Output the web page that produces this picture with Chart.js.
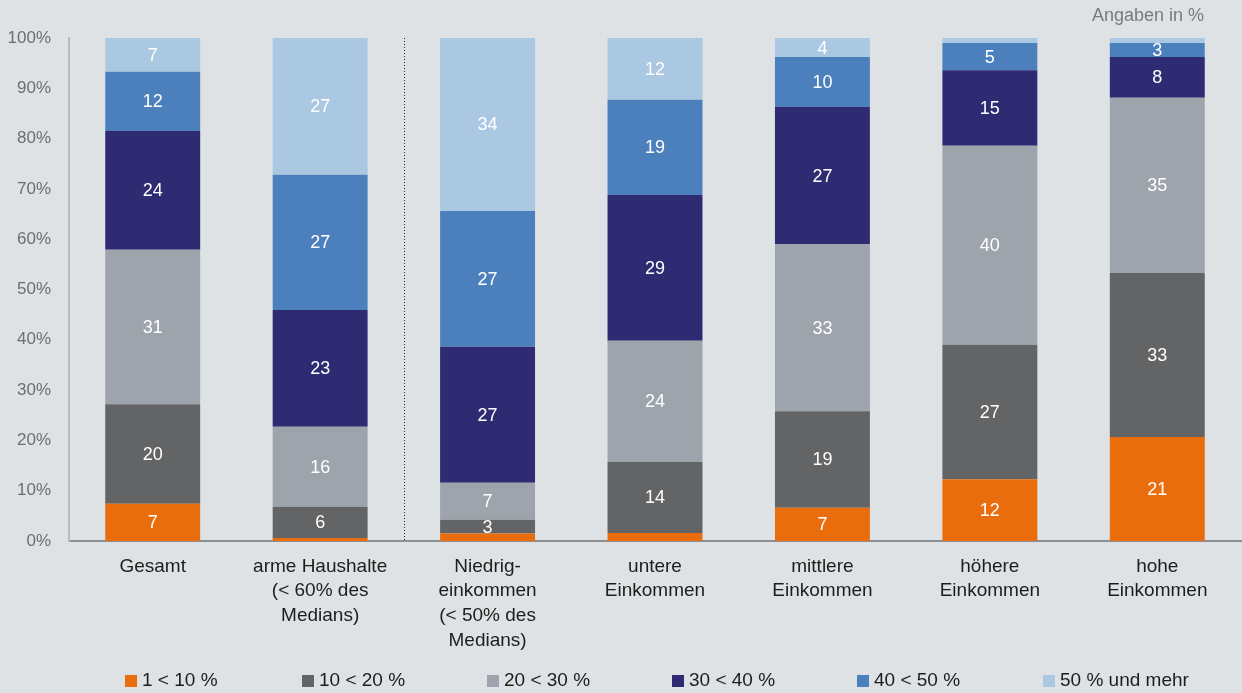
<!DOCTYPE html>
<html lang="de">
<head>
<meta charset="utf-8">
<script src="https://cdn.jsdelivr.net/npm/chart.js@4"></script>
<style>
    body { margin: 0; background: #dfe2e5; font-family: 'Liberation Sans', Arial, sans-serif; }
    #wrap { position: relative; width: 1242px; height: 693px; overflow: hidden; }
    #unit { position: absolute; left: 1092px; top: 3px; font-size: 18px; line-height: 24px; color: #7a7a7a; }
    .leg { position: absolute; top: 669px; font-size: 19px; line-height: 22px; color: #1d1d1b; white-space: nowrap; }
    .leg i { display: inline-block; width: 12px; height: 12px; margin-right: 5px; vertical-align: -1px; }
</style>
</head>
<body>
<div id="wrap">
    <canvas id="chart" width="1242" height="693"></canvas>
    <div id="unit">Angaben in %</div>
    <div id="legend"></div>
</div>
<script>
// Categories (x axis)
const categories = [
    'Gesamt',
    ['arme Haushalte', '(< 60% des', 'Medians)'],
    ['Niedrig-', 'einkommen', '(< 50% des', 'Medians)'],
    ['untere', 'Einkommen'],
    ['mittlere', 'Einkommen'],
    ['höhere', 'Einkommen'],
    ['hohe', 'Einkommen']
];

// Series (bottom to top), values in %
const share1to10 = [7.4, 0.6, 1.5, 1.6, 6.6, 12.3, 20.7];
const share10to20 = [19.8, 6.2, 2.7, 14.1, 19.2, 26.7, 32.6];
const share20to30 = [30.7, 15.9, 7.4, 24.1, 33.2, 39.6, 34.8];
const share30to40 = [23.6, 23.2, 27.0, 29.0, 27.3, 15.0, 8.1];
const share40to50 = [11.8, 26.9, 27.0, 18.9, 9.9, 5.4, 2.8];
const share50plus = [6.7, 27.2, 34.4, 12.3, 3.8, 1.0, 1.0];

const seriesNames = ['1 < 10 %', '10 < 20 %', '20 < 30 %', '30 < 40 %', '40 < 50 %', '50 % und mehr'];
const seriesColors = ['#ea6d0d', '#636466', '#9ea4ab', '#2e2b72', '#4b80bd', '#abc8e2'];
const seriesValues = [share1to10, share10to20, share20to30, share30to40, share40to50, share50plus];

const yTicks = [0, 10, 20, 30, 40, 50, 60, 70, 80, 90, 100];

const FONT = "'Liberation Sans', Arial, sans-serif";

// white numbers in the middle of each segment
const segmentLabels = {
    id: 'segmentLabels',
    afterDatasetsDraw(chart) {
        const ctx = chart.ctx;
        ctx.save();
        ctx.font = '18px ' + FONT;
        ctx.fillStyle = '#ffffff';
        ctx.textAlign = 'center';
        ctx.textBaseline = 'middle';
        chart.data.datasets.forEach((ds, i) => {
            const meta = chart.getDatasetMeta(i);
            meta.data.forEach((bar, j) => {
                const v = ds.data[j];
                if (v < 2.5) return;
                ctx.fillText(Math.round(v), bar.x, (bar.y + bar.base) / 2 + 1);
            });
        });
        ctx.restore();
    }
};

// dotted separator between "arme Haushalte" and "Niedrigeinkommen"
const separator = {
    id: 'separator',
    afterDraw(chart) {
        const xs = chart.scales.x;
        const area = chart.chartArea;
        const x = Math.round((xs.getPixelForValue(1) + xs.getPixelForValue(2)) / 2) + 0.5;
        const ctx = chart.ctx;
        ctx.save();
        ctx.strokeStyle = '#222';
        ctx.lineWidth = 1;
        ctx.setLineDash([1, 2]);
        ctx.beginPath();
        ctx.moveTo(x, area.top);
        ctx.lineTo(x, area.bottom - 1);
        ctx.stroke();
        ctx.restore();
    }
};

new Chart(document.getElementById('chart'), {
    type: 'bar',
    data: {
        labels: categories,
        datasets: seriesValues.map((vals, i) => ({
            label: seriesNames[i],
            data: vals,
            backgroundColor: seriesColors[i],
            borderWidth: 0,
            barPercentage: 0.567,
            categoryPercentage: 1
        }))
    },
    options: {
        responsive: false,
        animation: false,
        layout: { padding: { top: 38, right: 1, left: 0, bottom: 0 } },
        plugins: { legend: { display: false }, tooltip: { enabled: false } },
        scales: {
            x: {
                stacked: true,
                grid: { display: false, drawTicks: false },
                border: { color: '#8c9095', width: 2 },
                ticks: { color: '#1d1d1b', font: { size: 19, family: FONT, lineHeight: 1.3 }, padding: 13, maxRotation: 0, autoSkip: false },
                afterFit: s => { s.height = 152; }
            },
            y: {
                stacked: true,
                min: 0,
                max: 100,
                afterBuildTicks: s => { s.ticks = yTicks.map(v => ({ value: v })); },
                ticks: { callback: v => v + '%', color: '#6e6e6e', font: { size: 17, family: FONT }, padding: 18 },
                grid: { display: false, drawTicks: false },
                border: { color: '#b4bbc3', width: 2 },
                afterFit: s => { s.width = 69; }
            }
        }
    },
    plugins: [segmentLabels, separator]
});

// legend below the chart
const legendLeft = [125, 302, 487, 672, 857, 1043];
const legend = document.getElementById('legend');
seriesNames.forEach((name, i) => {
    const el = document.createElement('div');
    el.className = 'leg';
    el.style.left = legendLeft[i] + 'px';
    el.innerHTML = `<i style="background:${seriesColors[i]}"></i>${name}`;
    legend.appendChild(el);
});
</script>
</body>
</html>
